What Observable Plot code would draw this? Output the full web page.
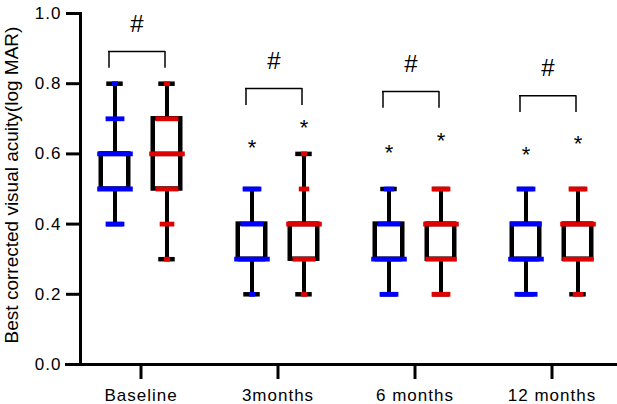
<!DOCTYPE html>
<html>
<head>
<meta charset="utf-8">
<script src="https://cdn.jsdelivr.net/npm/d3@7"></script>
<script src="https://cdn.jsdelivr.net/npm/@observablehq/plot@0.6"></script>
<style>
  html, body { margin: 0; padding: 0; background: #fff; }
  #chart [aria-label$="tick label"] { letter-spacing: 1px; }
</style>
</head>
<body>
<div id="chart"></div>
<script>
// Visit groups along the x axis
const groups = ["Baseline", "3months", "6 months", "12 months"];
const yTicks = [0, 0.2, 0.4, 0.6, 0.8, 1.0];
const yLabel = "Best corrected visual acuity(log MAR)";

// Five-number summaries, blue series
const blueMin = [0.4, 0.2, 0.2, 0.2];
const blueQ1 = [0.5, 0.3, 0.3, 0.3];
const blueMedian = [0.6, 0.3, 0.3, 0.3];
const blueQ3 = [0.6, 0.4, 0.4, 0.4];
const blueMax = [0.8, 0.5, 0.5, 0.5];

// Five-number summaries, red series
const redMin = [0.3, 0.2, 0.2, 0.2];
const redQ1 = [0.5, 0.3, 0.3, 0.3];
const redMedian = [0.6, 0.4, 0.4, 0.4];
const redQ3 = [0.7, 0.4, 0.4, 0.4];
const redMax = [0.8, 0.6, 0.5, 0.5];

// Individual values: each level and the number of eyes on that level
const blueLevels = [[0.8, 0.7, 0.6, 0.5, 0.4], [0.5, 0.4, 0.3, 0.2], [0.5, 0.4, 0.3, 0.2], [0.5, 0.4, 0.3, 0.2]];
const blueCounts = [[1, 4, 8, 8, 4], [4, 5, 8, 1], [2, 5, 8, 4], [4, 7, 8, 5]];
const redLevels = [[0.8, 0.7, 0.6, 0.5, 0.4, 0.3], [0.6, 0.5, 0.4, 0.3, 0.2], [0.5, 0.4, 0.3, 0.2], [0.5, 0.4, 0.3, 0.2]];
const redCounts = [[1, 5, 8, 5, 3, 1], [1, 2, 8, 5, 1], [4, 8, 7, 4], [4, 8, 7, 2]];

// Significance annotations (log MAR units)
const blueStar = [null, 0.632, 0.618, 0.61];
const redStar = [null, 0.689, 0.652, 0.644];
const bracketTop = [0.892, 0.786, 0.778, 0.766];
const bracketDrop = 0.048;

// Layout
const width = 617, height = 404;
const marginLeft = 65, marginTop = 13, marginBottom = 40;
const xRange = [71, 621];
const band = (xRange[1] - xRange[0]) / groups.length;
const pairOffset = 26;
const boxInset = (band - 28) / 2;
const capInset = (band - 17) / 2;
const bracketHalf = 28, bracketShift = -4;
const bracketInset = (band - 2 * bracketHalf) / 2;

// A horizontal bar symbol whose half-length is the dot radius
const hDash = {
  draw(context, size) {
    const r = Math.sqrt(size / Math.PI);
    context.rect(-r, -2.4, 2 * r, 4.8);
  }
};

function seriesMarks(min, q1, med, q3, max, levels, counts, star, color, dx) {
  const rows = groups.map((g, i) => ({group: g, min: min[i], q1: q1[i], median: med[i], q3: q3[i], max: max[i], star: star[i]}));
  const dashes = groups.flatMap((g, i) => levels[i].map((v, j) => ({group: g, value: v, count: counts[i][j]})));
  return [
    Plot.ruleX(rows, {x: "group", y1: "min", y2: "max", dx, stroke: "#000", strokeWidth: 4}),
    Plot.barY(rows, {x: "group", y1: "q1", y2: "q3", dx, fill: "#fff", stroke: "#000", strokeWidth: 4.5, insetLeft: boxInset, insetRight: boxInset}),
    Plot.tickY(rows, {x: "group", y: "median", dx, stroke: "#000", strokeWidth: 4.5, insetLeft: boxInset, insetRight: boxInset}),
    Plot.tickY(rows, {x: "group", y: "min", dx, stroke: "#000", strokeWidth: 4.5, insetLeft: capInset, insetRight: capInset}),
    Plot.tickY(rows, {x: "group", y: "max", dx, stroke: "#000", strokeWidth: 4.5, insetLeft: capInset, insetRight: capInset}),
    Plot.dot(dashes, {x: "group", y: "value", r: "count", symbol: hDash, fill: color, stroke: "none", dx}),
    Plot.text(rows.filter(d => d.star != null), {x: "group", y: "star", text: () => "*", dx, dy: 5, fontSize: 22, fill: "#000"})
  ];
}

const brackets = groups.map((g, i) => ({group: g, top: bracketTop[i], bottom: bracketTop[i] - bracketDrop}));

const chart = Plot.plot({
  width, height, marginLeft, marginRight: 0, marginTop, marginBottom,
  style: {fontFamily: "'Liberation Sans', Arial, sans-serif", fontSize: "17px", color: "#000", background: "#fff"},
  x: {domain: groups, range: xRange, padding: 0},
  y: {domain: [0, 1]},
  r: {type: "linear", domain: [0, 8], range: [1, 17.8]},
  marks: [
    // axes
    Plot.ruleY([0], {stroke: "#000", strokeWidth: 3}),
    Plot.frame({anchor: "left", dx: 15, stroke: "#000", strokeWidth: 3}),
    Plot.axisY(yTicks, {anchor: "left", dx: 15, tickSize: 14, tickPadding: 5, strokeWidth: 3, fontSize: 17, tickFormat: d3.format(".1f"), label: null}),
    Plot.axisX({anchor: "bottom", tickSize: 15, tickPadding: 9, strokeWidth: 3, fontSize: 17, label: null}),
    Plot.text([yLabel], {frameAnchor: "left", textAnchor: "middle", lineAnchor: "middle", dx: -54, dy: -4, rotate: -90, fontSize: 19, fill: "#000"}),
    // box plots
    ...seriesMarks(blueMin, blueQ1, blueMedian, blueQ3, blueMax, blueLevels, blueCounts, blueStar, "#0000ff", -pairOffset),
    ...seriesMarks(redMin, redQ1, redMedian, redQ3, redMax, redLevels, redCounts, redStar, "#e00000", pairOffset),
    // between-series comparison brackets
    Plot.tickY(brackets, {x: "group", y: "top", dx: bracketShift, stroke: "#000", strokeWidth: 1.5, strokeLinecap: "square", insetLeft: bracketInset, insetRight: bracketInset}),
    Plot.ruleX(brackets, {x: "group", y1: "bottom", y2: "top", dx: bracketShift - bracketHalf, stroke: "#000", strokeWidth: 1.5}),
    Plot.ruleX(brackets, {x: "group", y1: "bottom", y2: "top", dx: bracketShift + bracketHalf, stroke: "#000", strokeWidth: 1.5}),
    Plot.text(brackets, {x: "group", y: "top", text: () => "#", dx: bracketShift, dy: -27, fontSize: 24, fill: "#000"})
  ]
});

document.getElementById("chart").appendChild(chart);
</script>
</body>
</html>
